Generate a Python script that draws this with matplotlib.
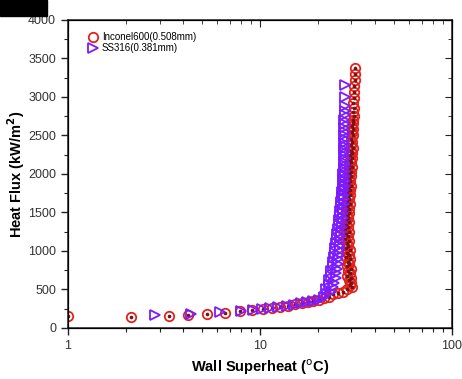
import matplotlib
matplotlib.use('Agg')
import matplotlib.pyplot as plt
from matplotlib.patches import Rectangle
from matplotlib.ticker import MultipleLocator, LogLocator, NullFormatter
import numpy as np

plt.rcParams['font.family'] = ['Liberation Sans', 'DejaVu Sans']

# Inconel600 (0.508 mm): wall superheat (C) vs heat flux (kW/m2)
inc_dt_low = [1.0, 2.13, 3.36, 4.2, 5.3, 6.6, 7.9, 9.1, 10.4, 11.6, 12.8, 14.0,
              15.3, 16.5, 17.8, 19.0, 20.3, 21.6, 23.0, 23.9, 25.5, 27.0, 28.6]
inc_q_low = [150, 145, 158, 170, 185, 200, 215, 232, 248, 262, 278, 292,
             308, 322, 338, 352, 368, 385, 400, 440, 455, 470, 500]
inc_dt_col = [30.2, 29.4, 30.0, 29.0, 29.8, 28.6, 29.5, 28.8, 29.9, 28.4,
              29.3, 28.7, 29.6, 28.2, 29.0, 28.5, 29.4, 28.0, 28.9, 28.3,
              29.1, 27.8, 28.7, 28.1, 29.0, 27.9, 28.8, 28.2, 29.2, 28.0,
              28.9, 28.4, 29.3, 28.2, 29.1, 28.6, 29.5, 28.4, 29.2, 28.7,
              29.6, 28.6, 29.4, 28.9, 29.8, 28.8, 29.6, 29.1, 30.0, 29.0,
              29.8, 29.3, 30.1, 29.2, 30.0, 29.5, 30.3, 29.4, 30.1, 29.7,
              30.4, 29.8, 30.3, 30.0, 30.6, 30.1, 30.5, 30.2, 30.7, 30.4,
              30.8, 30.5, 30.9, 30.7, 31.0, 30.9, 31.1, 31.2, 31.3, 31.4]
inc_q_col = [530, 560, 590, 620, 650, 680, 710, 740, 770, 800,
             830, 860, 890, 920, 950, 980, 1010, 1040, 1070, 1100,
             1130, 1160, 1190, 1220, 1250, 1280, 1310, 1340, 1370, 1400,
             1430, 1460, 1490, 1520, 1550, 1580, 1610, 1640, 1670, 1700,
             1730, 1760, 1790, 1820, 1850, 1880, 1910, 1940, 1970, 2000,
             2030, 2060, 2090, 2120, 2150, 2180, 2210, 2240, 2270, 2300,
             2340, 2380, 2420, 2460, 2500, 2540, 2580, 2620, 2660, 2700,
             2750, 2800, 2860, 2920, 2990, 3060, 3140, 3220, 3300, 3380]

# SS316 (0.381 mm)
ss_dt_low = [2.84, 4.4, 6.2, 8.0, 9.2, 10.2, 11.3, 12.5, 13.8, 15.0, 16.3,
             17.6, 19.0, 20.3, 21.5]
ss_q_low = [170, 185, 205, 220, 235, 250, 262, 276, 290, 305, 320,
            335, 350, 368, 400]
ss_dt_col = [22.5, 23.6, 22.2, 24.0, 22.8, 24.4, 23.0, 24.8, 23.4, 25.0,
             23.6, 25.2, 23.9, 25.4, 24.1, 25.6, 24.3, 25.8, 24.5, 26.0,
             24.7, 26.1, 24.9, 26.3, 25.1, 26.4, 25.3, 26.6, 25.5, 26.7,
             25.7, 26.9, 25.9, 27.0, 26.1, 27.1, 26.3, 27.2, 26.5, 27.3,
             26.6, 27.4, 26.8, 27.5, 26.9, 27.5, 27.0, 27.6, 27.1, 27.6,
             27.2, 27.7, 27.2, 27.7, 27.3, 27.7, 27.3, 27.8, 27.4, 27.8,
             27.4, 27.8, 27.4, 27.8, 27.5, 27.8, 27.5, 27.8, 27.5, 27.8,
             27.6, 27.8, 27.6, 27.7]
ss_q_col = [440, 470, 500, 530, 560, 590, 620, 650, 680, 710,
            740, 770, 800, 830, 860, 890, 920, 950, 980, 1010,
            1040, 1070, 1100, 1130, 1160, 1190, 1220, 1250, 1280, 1310,
            1340, 1370, 1400, 1430, 1460, 1490, 1520, 1550, 1580, 1610,
            1640, 1670, 1700, 1730, 1760, 1790, 1820, 1850, 1880, 1910,
            1940, 1970, 2000, 2040, 2080, 2120, 2160, 2200, 2240, 2280,
            2320, 2360, 2400, 2450, 2500, 2550, 2600, 2650, 2700, 2760,
            2820, 2880, 3000, 3150]

inc_dt = inc_dt_low + inc_dt_col
inc_q = inc_q_low + inc_q_col
ss_dt = ss_dt_low + ss_dt_col
ss_q = ss_q_low + ss_q_col

red = '#e0231d'
dark_red = '#7a1010'
purple = '#7b1cff'

fig = plt.figure(figsize=(4.62, 3.79), dpi=100)
ax = fig.add_axes([0.147, 0.1346, 0.831, 0.8127])

ax.plot(inc_dt, inc_q, linestyle='none', marker='o', markersize=6.8,
        markerfacecolor='none', markeredgecolor=red, markeredgewidth=1.3,
        label='Inconel600(0.508mm)', zorder=3)
ax.plot(inc_dt, inc_q, linestyle='none', marker='o', markersize=1.6,
        color=dark_red, zorder=3)
ax.plot(ss_dt, ss_q, linestyle='none', marker='>', markersize=6.8,
        markerfacecolor='none', markeredgecolor=purple, markeredgewidth=1.3,
        label='SS316(0.381mm)', zorder=4)

ax.set_xscale('log')
ax.set_xlim(1, 100)
ax.set_ylim(0, 4000)
ax.yaxis.set_major_locator(MultipleLocator(500))
ax.yaxis.set_minor_locator(MultipleLocator(250))
ax.xaxis.set_minor_locator(LogLocator(base=10, subs=np.arange(2, 10)))
ax.xaxis.set_minor_formatter(NullFormatter())
ax.set_xticks([1, 10, 100])
ax.set_xticklabels(['1', '10', '100'])

ax.tick_params(which='both', direction='out', colors='#222222',
               labelcolor='#333333', labelsize=9)
ax.tick_params(which='major', length=5, width=1)
ax.tick_params(which='minor', length=3, width=0.8)
for s in ax.spines.values():
    s.set_linewidth(1.1)
    s.set_color('#222222')

# mirrored ticks on top and right pointing inward
top = ax.twiny()
top.set_xscale('log')
top.set_xlim(1, 100)
top.xaxis.set_minor_locator(LogLocator(base=10, subs=np.arange(2, 10)))
top.tick_params(axis='x', which='both', direction='in', labeltop=False,
                colors='#222222')
top.tick_params(axis='x', which='major', length=5)
top.tick_params(axis='x', which='minor', length=3)
right = ax.twinx()
right.set_ylim(0, 4000)
right.yaxis.set_major_locator(MultipleLocator(500))
right.yaxis.set_minor_locator(MultipleLocator(250))
right.tick_params(axis='y', which='both', direction='in', labelright=False,
                  colors='#222222')
right.tick_params(axis='y', which='major', length=5)
right.tick_params(axis='y', which='minor', length=3)

ax.set_xlabel('Wall Superheat ($^\\mathrm{o}$C)', fontsize=10.5,
              fontweight='bold', labelpad=4)
ax.set_ylabel('Heat Flux (kW/m$^\\mathbf{2}$)', fontsize=10.5,
              fontweight='bold', labelpad=1)

leg = ax.legend(loc='upper left', frameon=False, fontsize=7,
                handletextpad=0.3, borderaxespad=0.4, labelspacing=0.1,
                handlelength=1.2, bbox_to_anchor=(0.03, 0.985))

fig.patches.append(Rectangle((0, 1 - 16 / 379), 47 / 462, 16 / 379,
                             transform=fig.transFigure, color='black'))

fig.savefig('out.png', dpi=100)
